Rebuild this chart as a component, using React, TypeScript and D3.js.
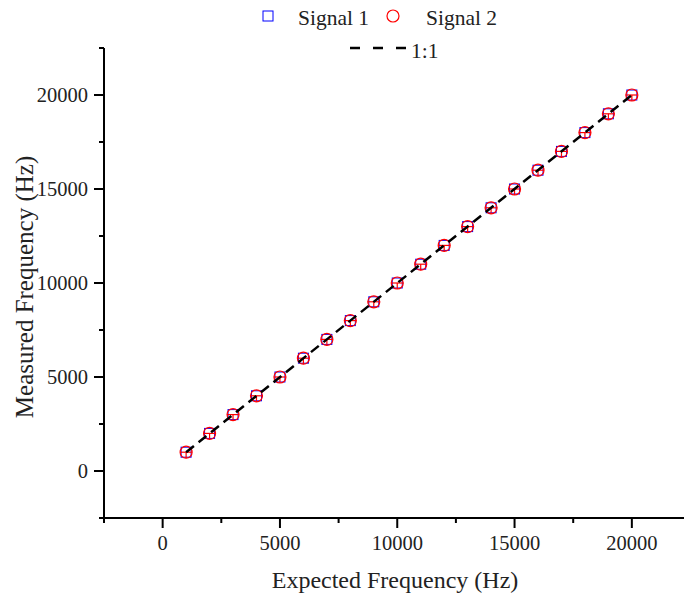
import React from "react";
import * as d3 from "d3";

const expected = [1000, 2000, 3000, 4000, 5000, 6000, 7000, 8000, 9000, 10000, 11000, 12000, 13000, 14000, 15000, 16000, 17000, 18000, 19000, 20000];
const signal1 = [1000, 2000, 3000, 4000, 5000, 6000, 7000, 8000, 9000, 10000, 11000, 12000, 13000, 14000, 15000, 16000, 17000, 18000, 19000, 20000];
const signal2 = [1000, 2000, 3000, 4000, 5000, 6000, 7000, 8000, 9000, 10000, 11000, 12000, 13000, 14000, 15000, 16000, 17000, 18000, 19000, 20000];
const oneToOne = [1000, 20000];
const majorTicks = [0, 5000, 10000, 15000, 20000];
const minorTicks = [-2500, 2500, 7500, 12500, 17500, 22500];

const W = 684, H = 596;
const FONT = "'Liberation Serif', 'Times New Roman', serif";

export default function App() {
  const x = d3.scaleLinear().domain([-2500, 22500]).range([104, 690.5]);
  const y = d3.scaleLinear().domain([-2500, 22500]).range([518, 48]);
  const line = d3.line<number>().x((d) => x(d)).y((d) => y(d));
  const r = 6;
  return (
    <svg width={W} height={H} style={{ position: "absolute", left: 0, top: 0, background: "#fff" }} fontFamily={FONT}>
      {/* Signal 1 squares */}
      {expected.map((e, i) => (
        <rect key={"s" + i} x={x(e) - 5} y={y(signal1[i]) - 5} width={10} height={10} fill="none" stroke="#0000ff" strokeWidth={1} />
      ))}
      {/* Signal 2 circles */}
      {expected.map((e, i) => (
        <g key={"c" + i} stroke="#ff0000" strokeWidth={1.2} fill="none">
          <circle cx={x(e)} cy={y(signal2[i])} r={r} />
          <line x1={x(e) - r} x2={x(e) + r} y1={y(signal2[i])} y2={y(signal2[i])} />
          <line x1={x(e)} x2={x(e)} y1={y(signal2[i])} y2={y(signal2[i]) + r} />
        </g>
      ))}
      {/* 1:1 line */}
      <path d={line(oneToOne) || ""} fill="none" stroke="#000" strokeWidth={2.5} strokeDasharray="10,6" />
      {/* axes */}
      <line x1={104} x2={W} y1={518} y2={518} stroke="#000" strokeWidth={2} />
      <line x1={104} x2={104} y1={48} y2={519} stroke="#000" strokeWidth={2} />
      {majorTicks.map((t) => (
        <g key={"xm" + t}>
          <line x1={x(t)} x2={x(t)} y1={518} y2={528} stroke="#000" strokeWidth={2} />
          <text x={x(t)} y={550} fontSize={20.5} textAnchor="middle" fill="#222">{t}</text>
        </g>
      ))}
      {minorTicks.map((t) => (
        <line key={"xn" + t} x1={x(t)} x2={x(t)} y1={518} y2={523} stroke="#000" strokeWidth={2} />
      ))}
      {majorTicks.map((t) => (
        <g key={"ym" + t}>
          <line x1={94} x2={104} y1={y(t)} y2={y(t)} stroke="#000" strokeWidth={2} />
          <text x={88} y={y(t) + 7} fontSize={20.5} textAnchor="end" fill="#222">{t}</text>
        </g>
      ))}
      {minorTicks.map((t) => (
        <line key={"yn" + t} x1={99} x2={104} y1={y(t)} y2={y(t)} stroke="#000" strokeWidth={2} />
      ))}
      {/* axis titles */}
      <text x={395} y={588} fontSize={24} textAnchor="middle" fill="#222">Expected Frequency (Hz)</text>
      <text transform={`translate(33,287) rotate(-90)`} fontSize={25} textAnchor="middle" fill="#222">Measured Frequency (Hz)</text>
      {/* legend */}
      <rect x={263} y={11} width={10} height={10} fill="none" stroke="#0000ff" strokeWidth={1} />
      <text x={298} y={25} fontSize={21.5} fill="#222">Signal 1</text>
      <circle cx={393} cy={16} r={6} fill="none" stroke="#ff0000" strokeWidth={1.2} />
      <text x={426} y={25} fontSize={21.5} fill="#222">Signal 2</text>
      <line x1={350} x2={406} y1={48} y2={48} stroke="#000" strokeWidth={2.5} strokeDasharray="10,13" />
      <text x={411} y={58} fontSize={21.5} fill="#222">1:1</text>
    </svg>
  );
}
